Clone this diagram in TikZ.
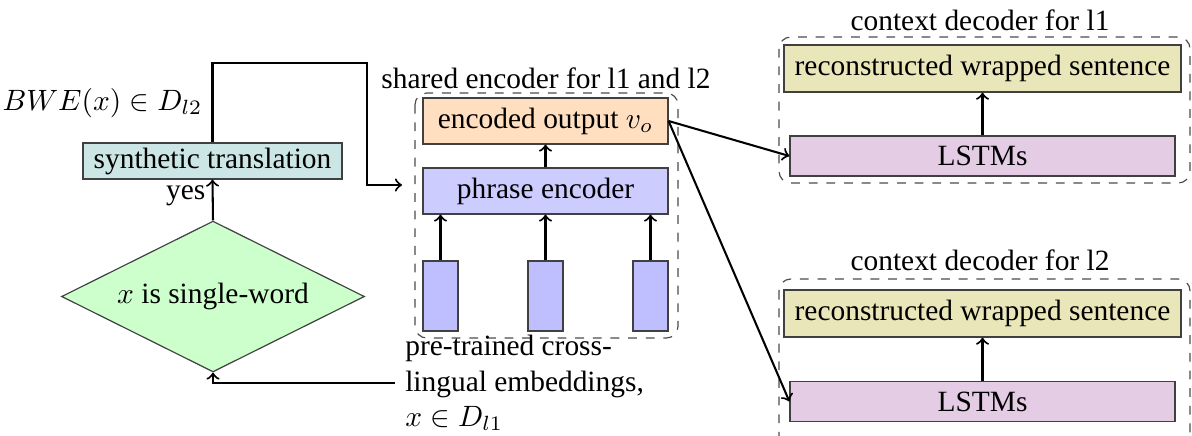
\documentclass[tikz,border=0pt]{standalone}
\usepackage{fontspec}
\setmainfont{Liberation Serif}
\usetikzlibrary{shapes.geometric}
\begin{document}
\begin{tikzpicture}[x=0.34pt,y=-0.34pt,
  box/.style={draw=black!75, inner sep=0pt},
  conn/.style={->, line width=0.7pt},
  group/.style={draw=black!70, dashed, rounded corners=4pt},
  lbl/.style={inner sep=0pt}]
\useasboundingbox (0,0) rectangle (1192,435);
\clip (0,0) rectangle (1192,435);
% groups
\draw[group] (415,93) rectangle (678,338);
\draw[group] (779,37) rectangle (1190,183);
\draw[group] (779,279) rectangle (1190,470);
\node[lbl] (tenc) at (546,78) {shared encoder for l1 and l2};
\node[lbl] (tdec1) at (980,20) {context decoder for l1};
\node[lbl] (tdec2) at (980,260) {context decoder for l2};
% left part
\node[box, fill=teal!20, minimum width=88.1pt, minimum height=12.2pt] (syn) at (212.5,161) {synthetic translation};
\node[diamond, shape aspect=2, draw=black!75, fill=green!20, inner sep=0pt, minimum width=103pt, minimum height=51.3pt] (dec) at (213,296.5) {$x$ is single-word};
\node[lbl, anchor=east] (bwe) at (203,103) {$BWE(x) \in D_{l2}$};
\node[lbl, anchor=east] (yes) at (206,196) {yes};
\node[anchor=west, align=left, inner sep=3.3pt] (pre) at (395,383) {pre-trained cross-\\lingual embeddings,\\$x \in D_{l1}$};
% encoder
\node[box, fill=orange!25, minimum width=83.3pt, minimum height=15.6pt] (enc) at (545.5,121) {encoded output $v_o$};
\node[box, fill=blue!20, minimum width=83.3pt, minimum height=15.6pt] (phr) at (545.5,191) {phrase encoder};
\node[box, fill=blue!25, minimum width=11.9pt, minimum height=23.8pt] (w1) at (440.5,296) {};
\node[box, fill=blue!25, minimum width=11.9pt, minimum height=23.8pt] (w2) at (545.5,296) {};
\node[box, fill=blue!25, minimum width=11.9pt, minimum height=23.8pt] (w3) at (650.5,296) {};
% decoders
\node[box, fill=olive!20, minimum width=135pt, minimum height=16pt] (rec1) at (982.5,68.5) {reconstructed wrapped sentence};
\node[box, fill=violet!20, minimum width=130.9pt, minimum height=13.6pt] (lstm1) at (982.5,156) {LSTMs};
\node[box, fill=olive!20, minimum width=135pt, minimum height=16pt] (rec2) at (982.5,313.5) {reconstructed wrapped sentence};
\node[box, fill=violet!20, minimum width=130.9pt, minimum height=13.6pt] (lstm2) at (982.5,401.5) {LSTMs};
% connectors
\coordinate (encin) at (402,185);
\draw[conn] (dec.north) -- (syn.south);
\draw[conn] (syn.north) |- (367,63) |- (encin);
\draw[conn] (pre.west) -| (dec.south);
\draw[conn] (phr.north) -- (enc.south);
\draw[conn] (w1.north) -- (w1.north |- phr.south);
\draw[conn] (w2.north) -- (w2.north |- phr.south);
\draw[conn] (w3.north) -- (w3.north |- phr.south);
\draw[conn] (enc.east) -- (lstm1.west);
\draw[conn] (enc.east) -- (lstm2.west);
\draw[conn] (lstm1.north) -- (rec1.south);
\draw[conn] (lstm2.north) -- (rec2.south);
\end{tikzpicture}
\end{document}
